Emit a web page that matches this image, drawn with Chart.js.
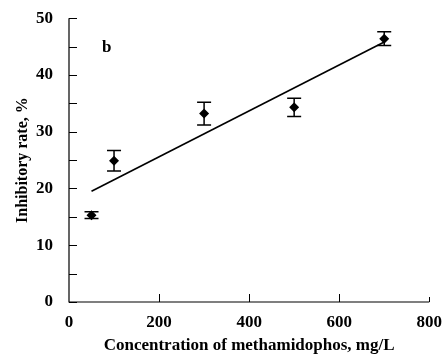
<!DOCTYPE html>
<html>
<head>
<meta charset="utf-8">
<script src="https://cdn.jsdelivr.net/npm/chart.js@4.4.1/dist/chart.umd.min.js"></script>
<style>
  html, body { margin: 0; padding: 0; background: #fff; }
  #wrap { width: 444px; height: 356px; position: relative; }
</style>
</head>
<body>
<div id="wrap"><canvas id="c"></canvas></div>
<script>
// 数据：浓度 (mg/L) 与抑制率 (%)
var concentrations = [50, 100, 300, 500, 700];
var inhibitoryRates = [15.3, 24.9, 33.2, 34.3, 46.4];
var errorBars = [0.6, 1.8, 2.0, 1.6, 1.2];
// 回归直线两端
var fitX = [50, 700];
var fitY = [19.5, 45.8];
var xTicks = [0, 200, 400, 600, 800];
var yTicks = [0, 10, 20, 30, 40, 50];
var yMinorTicks = [5, 15, 25, 35, 45];
var panelLabel = "b";

var SERIF = "'Liberation Serif', 'DejaVu Serif', serif";

/** 误差棒 + 坐标轴 + 刻度（刻度朝内） */
var axisPlugin = {
  id: "axisPlugin",
  beforeDatasetsDraw: function (chart) {
    var ctx = chart.ctx;
    var xs = chart.scales.x;
    var ys = chart.scales.y;
    var a = chart.chartArea;
    ctx.save();
    ctx.strokeStyle = "#000";
    ctx.lineWidth = 1.2;
    ctx.beginPath();
    ctx.moveTo(a.left, ys.getPixelForValue(50));
    ctx.lineTo(a.left, a.bottom);
    ctx.lineTo(xs.getPixelForValue(800), a.bottom);
    ctx.stroke();

    var tl = 8;
    ctx.lineWidth = 1;
    ctx.beginPath();
    yTicks.concat(yMinorTicks).forEach(function (v) {
      var py = Math.round(ys.getPixelForValue(v)) + 0.5;
      ctx.moveTo(a.left, py);
      ctx.lineTo(a.left + tl, py);
    });
    xTicks.forEach(function (v) {
      if (v === 0) return;
      var px = Math.round(xs.getPixelForValue(v)) + 0.5;
      ctx.moveTo(px, a.bottom);
      ctx.lineTo(px, a.bottom - (v === 800 ? 5 : tl));
    });
    ctx.stroke();

    // 误差棒
    var meta = chart.getDatasetMeta(1);
    ctx.lineWidth = 1.5;
    ctx.beginPath();
    meta.data.forEach(function (pt, i) {
      var x = pt.x;
      var top = ys.getPixelForValue(inhibitoryRates[i] + errorBars[i]);
      var bot = ys.getPixelForValue(inhibitoryRates[i] - errorBars[i]);
      ctx.moveTo(x, top);
      ctx.lineTo(x, bot);
      ctx.moveTo(x - 7, top);
      ctx.lineTo(x + 7, top);
      ctx.moveTo(x - 7, bot);
      ctx.lineTo(x + 7, bot);
    });
    ctx.stroke();

    ctx.fillStyle = "#000";
    ctx.font = "bold 17px " + SERIF;
    ctx.textAlign = "center";
    ctx.textBaseline = "middle";
    ctx.fillText(panelLabel, xs.getPixelForValue(84), ys.getPixelForValue(44.8));
    ctx.restore();
  },
};

var fitLine = fitX.map(function (x, i) {
  return { x: x, y: fitY[i] };
});
var points = concentrations.map(function (x, i) {
  return { x: x, y: inhibitoryRates[i] };
});

new Chart(document.getElementById("c"), {
  type: "scatter",
  data: {
    datasets: [
      {
        type: "line",
        data: fitLine,
        borderColor: "#000",
        borderWidth: 1.6,
        pointRadius: 0,
        fill: false,
      },
      {
        data: points,
        pointStyle: "rectRot",
        pointRadius: 5,
        backgroundColor: "#000",
        borderColor: "#000",
        borderWidth: 0,
      },
    ],
  },
  options: {
    responsive: true,
    maintainAspectRatio: false,
    animation: false,
    events: [],
    layout: { padding: { top: 15, right: 14, left: 0, bottom: 0 } },
    plugins: {
      legend: { display: false },
      tooltip: { enabled: false },
    },
    scales: {
      x: {
        type: "linear",
        min: 0,
        max: 800,
        grid: { display: false },
        border: { display: false },
        afterBuildTicks: function (s) {
          s.ticks = xTicks.map(function (v) { return { value: v }; });
        },
        afterFit: function (s) { s.height = 54; },
        ticks: {
          color: "#000",
          padding: 2,
          maxRotation: 0,
          font: { family: SERIF, size: 17, weight: "bold" },
        },
        title: {
          display: true,
          text: "Concentration of methamidophos, mg/L",
          color: "#000",
          padding: { top: 0, bottom: 0 },
          font: { family: SERIF, size: 17, weight: "bold" },
        },
      },
      y: {
        type: "linear",
        min: 0,
        max: 50,
        grid: { display: false },
        border: { display: false },
        afterBuildTicks: function (s) {
          s.ticks = yTicks.map(function (v) { return { value: v }; });
        },
        afterFit: function (s) { s.width = 69; },
        ticks: {
          color: "#000",
          padding: 8,
          font: { family: SERIF, size: 17, weight: "bold" },
        },
        title: {
          display: true,
          text: "Inhibitory rate, %",
          color: "#000",
          padding: { top: 13, bottom: 0 },
          font: { family: SERIF, size: 16, weight: "bold" },
        },
      },
    },
  },
  plugins: [axisPlugin],
});
</script>
</body>
</html>
